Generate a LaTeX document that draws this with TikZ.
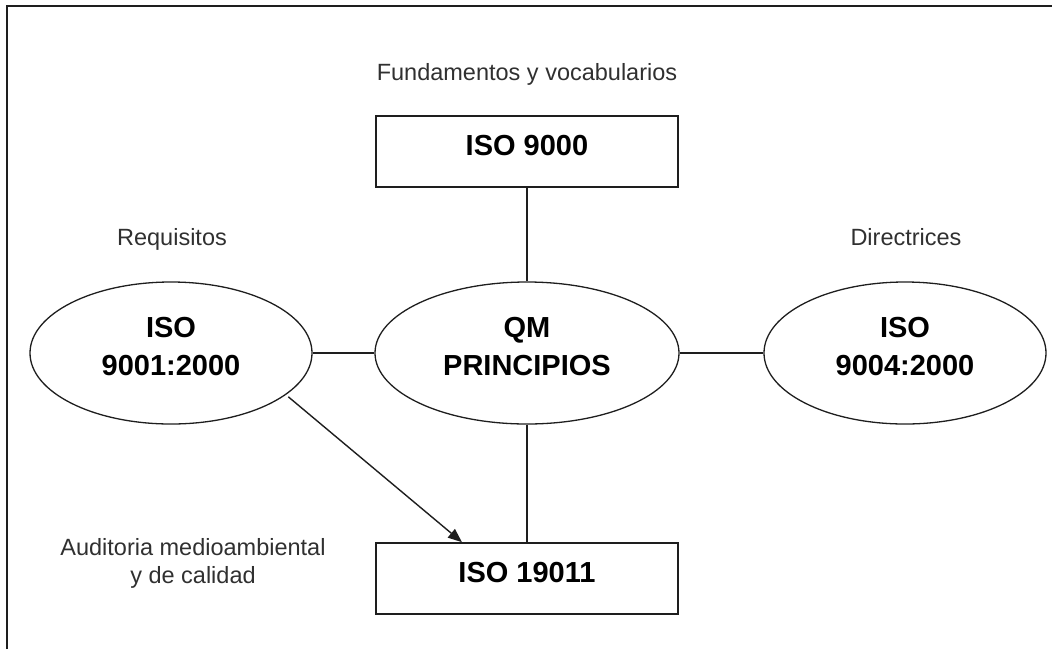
\documentclass[tikz,border=0pt]{standalone}
\usepackage{fontspec}
\setmainfont{Liberation Sans}
\usetikzlibrary{arrows.meta,shapes.geometric}

\definecolor{ink}{HTML}{1E1E1E}
\definecolor{captiongray}{HTML}{303030}

\begin{document}
\begin{tikzpicture}[x=1pt,y=1pt,
  caption/.style={font=\fontsize{23.5}{28}\selectfont, text=captiongray, inner sep=0, align=center},
  stdbox/.style={draw=ink, line width=1.6pt, minimum width=302pt, minimum height=71pt,
    inner sep=0, font=\bfseries\fontsize{29}{38}\selectfont, text depth=12pt},
  stdell/.style={ellipse, draw=ink, line width=1.3pt, minimum height=142pt,
    inner sep=0, align=center, font=\bfseries\fontsize{29}{38}\selectfont, text depth=13pt},
  link/.style={draw=ink, line width=1.4pt},
  frameline/.style={draw=ink, line width=2.5pt}
]
  % page area
  \useasboundingbox (0,0) rectangle (1052,-649);
  \draw[frameline] (7,-649) -- (7,-6) -- (1052,-6);

  % standards
  \node[stdbox] (iso9000) at (527,-151.5) {ISO 9000};
  \node[stdell, minimum width=304pt] (qm) at (527,-353) {QM\\PRINCIPIOS};
  \node[stdell, minimum width=282pt] (iso9001) at (171,-353) {ISO\\9001:2000};
  \node[stdell, minimum width=282pt] (iso9004) at (905,-353) {ISO\\9004:2000};
  \node[stdbox] (iso19011) at (527,-578.5) {ISO 19011};

  % captions
  \node[caption, anchor=base] (capfund) at (527,-80) {Fundamentos y vocabularios};
  \node[caption, anchor=base] (capreq) at (172,-245) {Requisitos};
  \node[caption, anchor=base] (capdir) at (906,-245) {Directrices};
  \node[caption, anchor=base] (capaud) at (193,-583) {Auditoria medioambiental\\y de calidad};

  % connectors
  \draw[link] (iso9000.south) -- (qm.north);
  \draw[link] (iso9001.east) -- (qm.west);
  \draw[link] (qm.east) -- (iso9004.west);
  \draw[link] (qm.south) -- (iso19011.north);
  \coordinate (audtip) at ([xshift=-65pt]iso19011.north);
  \draw[link, -{Triangle[length=14pt,width=11pt]}, shorten <=3pt] (iso9001.-20) -- (audtip);
\end{tikzpicture}
\end{document}
